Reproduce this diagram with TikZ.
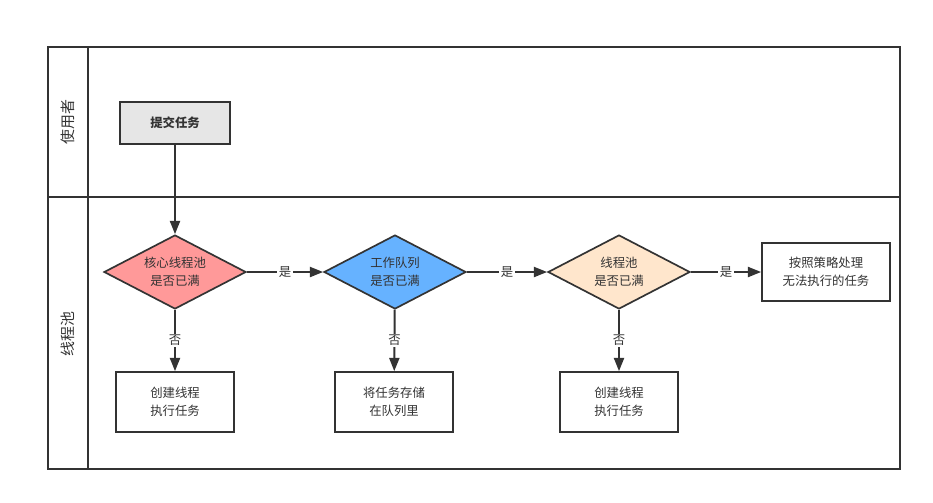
\documentclass[tikz,border=0pt]{standalone}
\usepackage{fontspec}
\setmainfont{Noto Sans CJK SC}
\usepackage{tikz}
\usetikzlibrary{arrows.meta}
\usetikzlibrary{shapes.geometric}
\tikzset{>={Triangle[length=3.3mm,width=2.5mm]}}
\usepackage{xcolor}
\definecolor{ln}{HTML}{333333}
\definecolor{r1}{HTML}{FF9999}
\definecolor{b1}{HTML}{66B2FF}
\definecolor{o1}{HTML}{FFE6CC}
\definecolor{g1}{HTML}{E6E6E6}
\tikzstyle{lane}=[draw=ln,line width=1.2pt]
\tikzstyle{lane label}=[text=ln,rotate=90,font=\fontsize{10.6}{12}\selectfont]
\tikzstyle{task}=[draw=ln,line width=1.2pt,fill=white,text=ln,align=center,inner sep=0pt,
                  font=\fontsize{8.8}{12.5}\selectfont]
\tikzstyle{check}=[diamond,draw=ln,line width=1.2pt,text=ln,align=center,inner sep=0pt,aspect=1.92,
                   minimum width=3.55cm,minimum height=1.85cm,font=\fontsize{8.8}{12.5}\selectfont]
\tikzstyle{flow}=[->,draw=ln,line width=1.4pt]
\tikzstyle{answer}=[fill=white,text=ln,inner sep=1pt,font=\fontsize{8.8}{10}\selectfont]

\begin{document}
\begin{tikzpicture}[x=0.025cm,y=-0.025cm]
  \useasboundingbox (0,0) rectangle (933,502);
  % swimlanes
  \draw[lane] (48,47) rectangle (900,469);
  \draw[lane] (48,197) -- (900,197);
  \draw[lane] (88,47) -- (88,469);
  \node[lane label] (user) at (68,122) {使用者};
  \node[lane label] (pool) at (68,334) {线程池};
  % nodes
  \node[task,fill=g1,minimum width=2.75cm,minimum height=1.05cm,font=\fontsize{8.8}{12.5}\selectfont\bfseries] (submit) at (175,123) {提交任务};
  \node[check,fill=r1] (core) at (175,272) {核心线程池\\是否已满};
  \node[check,fill=b1] (queue) at (395,272) {工作队列\\是否已满};
  \node[check,fill=o1] (max) at (619,272) {线程池\\是否已满};
  \node[task,minimum width=3.2cm,minimum height=1.45cm] (reject) at (826,272) {按照策略处理\\无法执行的任务};
  \node[task,minimum width=2.95cm,minimum height=1.5cm] (newcore) at (175,402) {创建线程\\执行任务};
  \node[task,minimum width=2.95cm,minimum height=1.5cm] (store) at (394,402) {将任务存储\\在队列里};
  \node[task,minimum width=2.95cm,minimum height=1.5cm] (newmax) at (619,402) {创建线程\\执行任务};
  % connectors
  \draw[flow] (submit) -- (core);
  \draw[flow] (core) -- node[answer] {是} (queue);
  \draw[flow] (queue) -- node[answer] {是} (max);
  \draw[flow] (max) -- node[answer] {是} (reject);
  \draw[flow] (core) -- node[answer] {否} (newcore);
  \draw[flow] (queue) -- node[answer] {否} (store);
  \draw[flow] (max) -- node[answer] {否} (newmax);
\end{tikzpicture}
\end{document}
